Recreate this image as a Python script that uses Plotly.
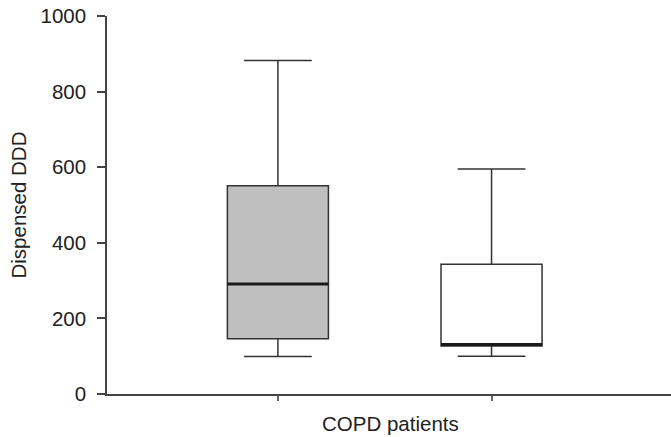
import plotly.graph_objects as go

groups = [0, 1]
lower = [99, 100]
q1 = [146, 127]
median = [291, 131]
q3 = [551, 343]
upper = [882, 595]
fills = ["#bfbfbf", "#ffffff"]
y_ticks = [0, 200, 400, 600, 800, 1000]
x_title = "COPD patients"
y_title = "Dispensed DDD"

LINE = "#333333"
BOX_W = 0.473
FS = 20.5

fig = go.Figure()
for i, g in enumerate(groups):
    fig.add_trace(go.Box(
        x=[g], q1=[q1[i]], median=[median[i]], q3=[q3[i]],
        lowerfence=[lower[i]], upperfence=[upper[i]],
        width=BOX_W, whiskerwidth=0.67,
        fillcolor=fills[i], line=dict(color=LINE, width=1.5),
        boxpoints=False, showlegend=False, hoverinfo="skip",
    ))
    # thicker median line
    fig.add_trace(go.Scatter(
        x=[g - BOX_W / 2, g + BOX_W / 2], y=[median[i], median[i]],
        mode="lines", line=dict(color="#1a1a1a", width=3),
        showlegend=False, hoverinfo="skip",
    ))

fig.add_annotation(
    x=(groups[0] + groups[1]) / 2, xref="x", y=0, yref="paper",
    yshift=-29, xshift=6, yanchor="middle", text=x_title, showarrow=False,
    font=dict(size=FS, color="#222222"),
)

fig.update_layout(
    width=671, height=437,
    margin=dict(l=107, r=0, t=16, b=43),
    paper_bgcolor="white", plot_bgcolor="white",
    font=dict(family="Liberation Sans, Arial, sans-serif", size=FS, color="#222222"),
    xaxis=dict(
        range=[-0.80, 1.84], tickvals=groups, ticktext=["", ""],
        ticks="outside", ticklen=5, tickcolor="#666666", tickwidth=1.5,
        showline=True, linecolor="#444444", linewidth=1.5,
        showgrid=False, zeroline=False,
    ),
    yaxis=dict(
        range=[0, 1000], tickvals=y_ticks,
        ticks="outside", ticklen=8, tickcolor="#444444", tickwidth=1.5,
        showline=True, linecolor="#444444", linewidth=1.5,
        showgrid=False, zeroline=False,
        ticklabelstandoff=7,
        title=dict(text=y_title, standoff=8, font=dict(size=FS)),
    ),
)

fig.write_html("out.html", config={"displayModeBar": False},
               post_script="document.body.style.margin='0px';")
